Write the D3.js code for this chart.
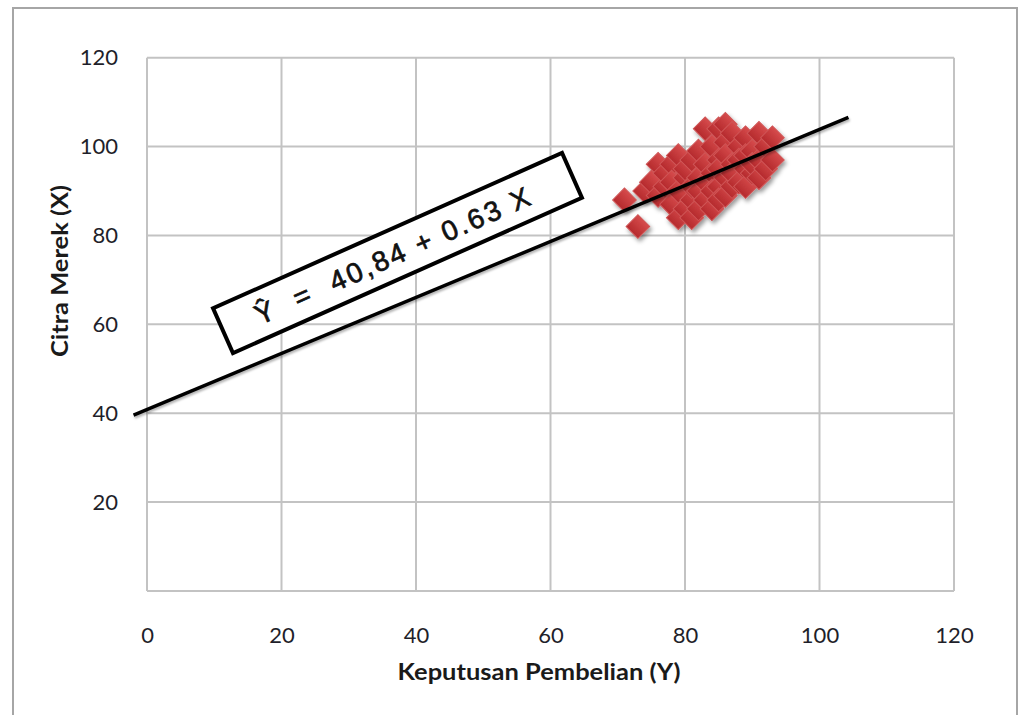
<!DOCTYPE html>
<html>
<head>
<meta charset="utf-8">
<script src="https://cdn.jsdelivr.net/npm/d3@7"></script>
<style>
  html, body { margin: 0; padding: 0; background: #fff; }
  svg { display: block; }
</style>
</head>
<body>
<svg id="chart" width="1020" height="715"></svg>
<script>
// Keputusan Pembelian (Y) on the horizontal axis, Citra Merek (X) on the vertical axis
const keputusanY = [71, 73, 74, 75, 76, 76, 77, 77, 78, 78, 78, 79, 79, 79, 80, 80, 80, 81, 81, 81, 81,
  82, 82, 82, 82, 83, 83, 83, 83, 84, 84, 84, 84, 85, 85, 85, 85, 85, 86, 86, 86, 86, 86,
  87, 87, 87, 87, 88, 88, 88, 89, 89, 89, 89, 90, 90, 90, 91, 91, 91, 92, 92, 93, 93];
const citraX = [88, 82, 90, 92, 96, 89, 91, 94, 87, 96, 92, 84, 90, 98, 86, 93, 95, 88, 91, 97, 84,
  99, 93, 86, 90, 104, 96, 88, 92, 100, 94, 86, 90, 104, 97, 91, 88, 95, 105, 101, 93, 89, 98,
  103, 96, 91, 94, 100, 92, 97, 102, 95, 91, 98, 99, 94, 96, 103, 97, 93, 100, 95, 102, 97];

// Regression: Ŷ = 40,84 + 0.63 X
const intercept = 40.84;
const slope = 0.63;
const lineRange = [-2, 104.3];

const xTicks = [0, 20, 40, 60, 80, 100, 120];
const yTicks = [20, 40, 60, 80, 100, 120];
const gridValues = [0, 20, 40, 60, 80, 100, 120];

const xTitle = "Keputusan Pembelian (Y)";
const yTitle = "Citra Merek (X)";
const equationText = "Ŷ  =  40,84 + 0.63 X";

const svg = d3.select("#chart");

const x = d3.scaleLinear().domain([0, 120]).range([147, 954]);
const y = d3.scaleLinear().domain([0, 120]).range([591, 57.7]);

const defs = svg.append("defs");
const shadow = defs.append("filter").attr("id", "shadow")
  .attr("x", "-20%").attr("y", "-20%").attr("width", "140%").attr("height", "140%");
shadow.append("feDropShadow").attr("dx", 2).attr("dy", 3)
  .attr("stdDeviation", 2).attr("flood-color", "#000").attr("flood-opacity", 0.4);
const lineShadow = defs.append("filter").attr("id", "lineShadow")
  .attr("x", "-5%").attr("y", "-20%").attr("width", "110%").attr("height", "140%");
lineShadow.append("feDropShadow").attr("dx", 1).attr("dy", 2)
  .attr("stdDeviation", 1.2).attr("flood-color", "#000").attr("flood-opacity", 0.3);
const grad = defs.append("linearGradient").attr("id", "markerFill")
  .attr("x1", 0).attr("y1", 0).attr("x2", 0).attr("y2", 1);
grad.append("stop").attr("offset", "0%").attr("stop-color", "#d64b4c");
grad.append("stop").attr("offset", "100%").attr("stop-color", "#b52a2d");

// Outer chart frame
svg.append("rect")
  .attr("x", 13).attr("y", 8).attr("width", 1004).attr("height", 720)
  .attr("fill", "#fff").attr("stroke", "#a6a6a6").attr("stroke-width", 2);

// Gridlines and plot border
const grid = svg.append("g").attr("stroke", "#c3c3c3").attr("stroke-width", 2);
grid.selectAll("line.v").data(gridValues).join("line")
  .attr("class", "v")
  .attr("x1", d => x(d)).attr("x2", d => x(d))
  .attr("y1", y(0)).attr("y2", y(120));
grid.selectAll("line.h").data(gridValues).join("line")
  .attr("class", "h")
  .attr("x1", x(0)).attr("x2", x(120))
  .attr("y1", d => y(d)).attr("y2", d => y(d));

// Axes (labels only)
const xAxis = svg.append("g")
  .attr("transform", `translate(0,${y(0)})`)
  .call(d3.axisBottom(x).tickValues(xTicks).tickSize(0).tickPadding(36).tickFormat(d3.format("d")));
const yAxis = svg.append("g")
  .attr("transform", `translate(${x(0)},0)`)
  .call(d3.axisLeft(y).tickValues(yTicks).tickSize(0).tickPadding(29).tickFormat(d3.format("d")));
[xAxis, yAxis].forEach(g => {
  g.select(".domain").remove();
  g.selectAll("text")
    .attr("font-family", "Lato, 'Open Sans', sans-serif")
    .attr("font-size", 22)
    .attr("fill", "#1f1f2a");
});

// Axis titles
svg.append("text")
  .attr("x", 539).attr("y", 680)
  .attr("text-anchor", "middle")
  .attr("font-family", "Lato, 'Open Sans', sans-serif")
  .attr("font-weight", "bold")
  .attr("font-size", 23)
  .attr("textLength", 283)
  .attr("lengthAdjust", "spacingAndGlyphs")
  .attr("fill", "#1a1a1a")
  .text(xTitle);
svg.append("text")
  .attr("transform", "translate(68,271) rotate(-90)")
  .attr("text-anchor", "middle")
  .attr("font-family", "Lato, 'Open Sans', sans-serif")
  .attr("font-weight", "bold")
  .attr("font-size", 22)
  .attr("textLength", 172)
  .attr("lengthAdjust", "spacingAndGlyphs")
  .attr("fill", "#1a1a1a")
  .text(yTitle);

// Scatter markers
const points = keputusanY.map((v, i) => ({ xv: v, yv: citraX[i] }));
const diamond = d3.symbol().type(d3.symbolSquare).size(280);
svg.append("g").attr("filter", "url(#shadow)")
  .selectAll("path").data(points).join("path")
  .attr("d", diamond)
  .attr("transform", d => `translate(${x(d.xv)},${y(d.yv)}) rotate(45)`)
  .attr("fill", "url(#markerFill)")
  .attr("stroke", "#cf5556")
  .attr("stroke-width", 1);

// Regression line
const regLine = d3.line().x(d => x(d)).y(d => y(intercept + slope * d));
svg.append("path")
  .datum(lineRange)
  .attr("d", regLine)
  .attr("fill", "none")
  .attr("stroke", "#000")
  .attr("stroke-width", 3.5)
  .attr("filter", "url(#lineShadow)");

// Equation box
const box = svg.append("g").attr("transform", "translate(397.5,253) rotate(-24)");
box.append("rect")
  .attr("x", -191).attr("y", -24.5).attr("width", 382).attr("height", 49)
  .attr("fill", "#fff").attr("stroke", "#000").attr("stroke-width", 4);
box.append("text")
  .attr("x", -6).attr("y", 0)
  .attr("dy", "0.36em")
  .attr("text-anchor", "middle")
  .attr("font-family", "'Liberation Sans', Arial, sans-serif")
  .attr("font-size", 28)
  .attr("fill", "#111")
  .attr("stroke", "#111")
  .attr("stroke-width", 0.7)
  .attr("textLength", 298)
  .attr("lengthAdjust", "spacing")
  .style("white-space", "pre")
  .text(equationText);
</script>
</body>
</html>
